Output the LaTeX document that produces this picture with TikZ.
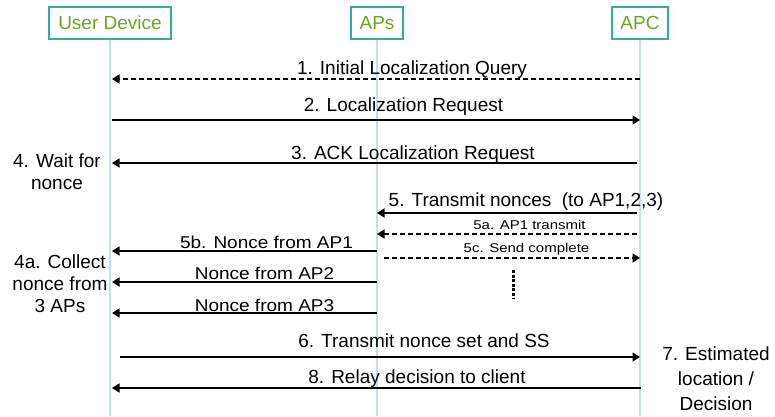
\documentclass[tikz,border=0pt]{standalone}
\usepackage{fontspec}
\setmainfont{Liberation Sans}
\usetikzlibrary{arrows.meta}

\definecolor{headgreen}{HTML}{6AA61E}
\definecolor{headframe}{HTML}{2FADA6}
\definecolor{lifeblue}{HTML}{BFE2E8}

\tikzset{
  head/.style={draw=headframe, line width=1.3pt, text=headgreen,
    font=\fontsize{19}{22}\selectfont, minimum height=32pt, inner sep=0pt},
  life/.style={draw=lifeblue, line width=1.2pt},
  msg/.style={line width=1.6pt, -{Triangle[length=7.5pt,width=9pt]}},
  dmsg/.style={msg, dash pattern=on 5pt off 3pt},
  lbl/.style={font=\fontsize{19}{22}\selectfont, anchor=base, inner sep=0pt},
  small/.style={font=\fontsize{15}{18}\selectfont, anchor=base, inner sep=0pt},
  note/.style={font=\fontsize{19}{22}\selectfont, align=center, inner sep=0pt, anchor=base},
  wideNote/.style={font=\fontsize{19}{25}\selectfont, align=center, inner sep=0pt, anchor=base}
}

\begin{document}
\begin{tikzpicture}[x=1pt, y=-1pt]
\useasboundingbox (0,0) rectangle (775,416);

% participants
\node[head, minimum width=122pt] (ud)  at (110,23) {User Device};
\node[head, minimum width=52pt]  (aps) at (377,23) {APs};
\node[head, minimum width=56pt]  (apc) at (640,23) {APC};

% lifelines
\coordinate (udEnd)  at (110,416);
\coordinate (apsEnd) at (377,416);
\coordinate (apcEnd) at (640,416);
\draw[life] (ud.south)  -- (udEnd);
\draw[life] (aps.south) -- (apsEnd);
\draw[life] (apc.south) -- (apcEnd);

% message end points on the lifelines
\coordinate (u1) at (112,79);   \coordinate (c1) at (640,79);
\coordinate (u2) at (112,120);  \coordinate (c2) at (640,120);
\coordinate (u3) at (112,163);  \coordinate (c3) at (637,163);
\coordinate (a5) at (377,213);  \coordinate (c5) at (637,213);
\coordinate (a5a) at (377,234); \coordinate (c5a) at (637,234);
\coordinate (u5b) at (112,251); \coordinate (a5b) at (377,251);
\coordinate (a5c) at (384,258); \coordinate (c5c) at (640,258);
\coordinate (uN2) at (112,282); \coordinate (aN2) at (377,282);
\coordinate (uN3) at (112,313); \coordinate (aN3) at (377,313);
\coordinate (u6) at (120,357);  \coordinate (c6) at (640,357);
\coordinate (u8) at (112,388);  \coordinate (c8) at (641,388);
\coordinate (dotTop) at (513,270); \coordinate (dotBot) at (513,299);

% messages
\draw[dmsg] (c1) -- (u1);
\node[lbl] (l1) at (412,74) {1. Initial Localization Query};

\draw[msg] (u2) -- (c2);
\node[lbl] (l2) at (403.5,111) {2. Localization Request};

\draw[msg] (c3) -- (u3);
\node[lbl] (l3) at (413,159) {3. ACK Localization Request};

\draw[msg] (c5) -- (a5);
\node[lbl] (l5) at (526,206) {5. Transmit nonces\ \ (to AP1,2,3)};

\draw[dmsg] (c5a) -- (a5a);
\node[small] (l5a) at (529.5,229) {\scalebox{1}[0.85]{5a. AP1 transmit}};

\draw[msg] (a5b) -- (u5b);
\node[lbl] (l5b) at (266.5,248) {\scalebox{1}[0.9]{5b. Nonce from AP1}};

\draw[dmsg] (a5c) -- (c5c);
\node[small] (l5c) at (526.5,252) {\scalebox{1}[0.85]{5c. Send complete}};

\draw[msg] (aN2) -- (uN2);
\node[lbl] (lN2) at (264.5,279) {\scalebox{1}[0.9]{Nonce from AP2}};

\draw[msg] (aN3) -- (uN3);
\node[lbl] (lN3) at (264.5,311) {\scalebox{1}[0.9]{Nonce from AP3}};

% more nonces follow
\draw[line width=3pt, dash pattern=on 3pt off 1.6pt] (dotTop) -- (dotBot);

\draw[msg] (u6) -- (c6);
\node[lbl] (l6) at (424,347) {6. Transmit nonce set and SS};

\draw[msg] (c8) -- (u8);
\node[lbl] (l8) at (417,383) {8. Relay decision to client};

% side notes (anchored at the baseline of their last line)
\node[note] (n4) at (57,189) {4. Wait for\\nonce};
\node[note] (n4a) at (60,312) {4a. Collect\\nonce from\\3 APs};
\node[wideNote] (n7) at (716,410) {7. Estimated\\location /\\Decision};
\end{tikzpicture}
\end{document}
